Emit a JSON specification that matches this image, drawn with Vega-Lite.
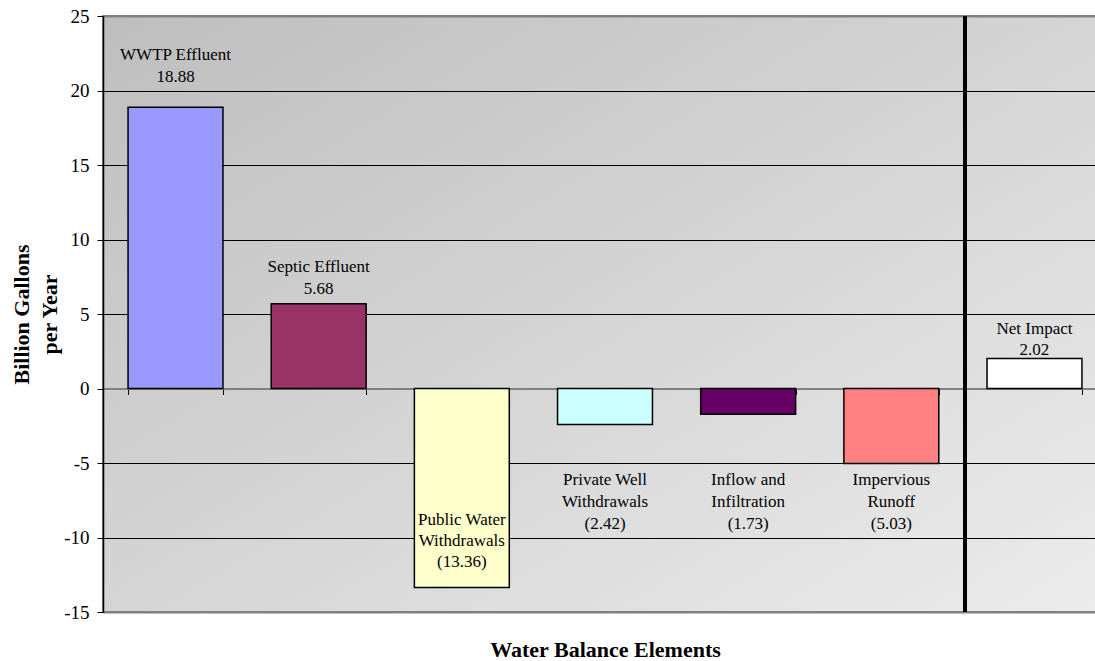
{
  "$schema": "https://vega.github.io/schema/vega-lite/v6.json",
  "width": 1004,
  "height": 596,
  "autosize": {"type": "none"},
  "padding": {"left": 103, "top": 16, "right": -12, "bottom": 49},
  "background": "white",
  "config": {
    "font": "Liberation Serif",
    "view": {
      "fill": {"gradient": "linear", "x1": 0, "y1": 0, "x2": 1, "y2": 1,
        "stops": [{"offset": 0, "color": "#bebebe"}, {"offset": 1, "color": "#ececec"}]},
      "stroke": "#808080",
      "strokeWidth": 2
    }
  },
  "data": {
    "values": [
      {"element": "WWTP Effluent", "value": 18.88, "label": "WWTP Effluent\n18.88"},
      {"element": "Septic Effluent", "value": 5.68, "label": "Septic Effluent\n5.68"},
      {"element": "Public Water Withdrawals", "value": -13.36, "label": "Public Water\nWithdrawals\n(13.36)"},
      {"element": "Private Well Withdrawals", "value": -2.42, "label": "Private Well\nWithdrawals\n(2.42)"},
      {"element": "Inflow and Infiltration", "value": -1.73, "label": "Inflow and\nInfiltration\n(1.73)"},
      {"element": "Impervious Runoff", "value": -5.03, "label": "Impervious\nRunoff\n(5.03)"},
      {"element": "Net Impact", "value": 2.02, "label": "Net Impact\n2.02"}
    ]
  },
  "layer": [
    {
      "mark": {"type": "bar", "stroke": "black", "strokeWidth": 1.5},
      "encoding": {
        "x": {"field": "element", "type": "nominal", "sort": null,
          "scale": {"paddingInner": 0.337, "paddingOuter": 0.175},
          "axis": {"orient": "bottom", "offset": -223.5, "labels": false, "tickBand": "extent",
            "tickSize": 6, "tickColor": "black", "tickWidth": 1,
            "domainColor": "#808080", "domainWidth": 2,
            "title": "Water Balance Elements", "titleFont": "Liberation Serif", "titleFontSize": 22,
            "titleFontWeight": "bold", "titleColor": "black", "titleBaseline": "alphabetic", "titleY": 268,
            "grid": false}},
        "y": {"field": "value", "type": "quantitative",
          "scale": {"domain": [-15, 25], "nice": false, "zero": false},
          "axis": {"values": [-15, -10, -5, 0, 5, 10, 15, 20, 25],
            "labelExpr": "'' + datum.value",
            "title": ["Billion Gallons", "per Year"], "titleFont": "Liberation Serif", "titleFontSize": 22,
            "titleFontWeight": "bold", "titleColor": "black", "titleAngle": -90, "titleAlign": "center",
            "titleBaseline": "alphabetic", "titleX": -75, "titleY": 298, "titleLineHeight": 28,
            "labelFont": "Liberation Serif", "labelFontSize": 19, "labelColor": "black", "labelPadding": 8,
            "tickSize": 6, "tickColor": "black", "domainColor": "black", "domainWidth": 1.5,
            "grid": true, "gridColor": {"condition": {"test": "datum.value == 25 || datum.value == -15", "value": "#808080"}, "value": "black"},
            "gridWidth": {"condition": {"test": "datum.value == 25 || datum.value == -15", "value": 2}, "value": 1},
            "gridOpacity": 1}},
        "color": {"field": "element", "type": "nominal", "legend": null,
          "scale": {"domain": ["WWTP Effluent", "Septic Effluent", "Public Water Withdrawals", "Private Well Withdrawals", "Inflow and Infiltration", "Impervious Runoff", "Net Impact"],
            "range": ["#9999ff", "#993366", "#ffffcc", "#ccffff", "#660066", "#ff8080", "#ffffff"]}}
      }
    },
    {
      "mark": {"type": "rule", "color": "black", "strokeWidth": 3.5},
      "encoding": {
        "x": {"datum": "Net Impact", "type": "nominal", "bandPosition": -0.23}
      }
    },
    {
      "transform": [{"filter": "datum.element == 'WWTP Effluent'"}],
      "mark": {"type": "text", "baseline": "top", "align": "center", "lineBreak": "\n", "lineHeight": 22, "fontSize": 17, "font": "Liberation Serif", "color": "black"},
      "encoding": {"x": {"field": "element", "type": "nominal", "sort": null}, "y": {"datum": 22.95}, "text": {"field": "label"}}
    },
    {
      "transform": [{"filter": "datum.element == 'Septic Effluent'"}],
      "mark": {"type": "text", "baseline": "top", "align": "center", "lineBreak": "\n", "lineHeight": 22, "fontSize": 17, "font": "Liberation Serif", "color": "black"},
      "encoding": {"x": {"field": "element", "type": "nominal", "sort": null}, "y": {"datum": 8.66}, "text": {"field": "label"}}
    },
    {
      "transform": [{"filter": "datum.element == 'Net Impact'"}],
      "mark": {"type": "text", "baseline": "top", "align": "center", "lineBreak": "\n", "lineHeight": 21, "fontSize": 17, "font": "Liberation Serif", "color": "black"},
      "encoding": {"x": {"field": "element", "type": "nominal", "sort": null}, "y": {"datum": 4.56}, "text": {"field": "label"}}
    },
    {
      "transform": [{"filter": "datum.element == 'Public Water Withdrawals'"}],
      "mark": {"type": "text", "baseline": "top", "align": "center", "lineBreak": "\n", "lineHeight": 21, "fontSize": 17, "font": "Liberation Serif", "color": "black"},
      "encoding": {"x": {"field": "element", "type": "nominal", "sort": null}, "y": {"datum": -8.26}, "text": {"field": "label"}}
    },
    {
      "transform": [{"filter": "datum.value < 0 && datum.element != 'Public Water Withdrawals'"}],
      "mark": {"type": "text", "baseline": "top", "align": "center", "lineBreak": "\n", "lineHeight": 22, "fontSize": 17, "font": "Liberation Serif", "color": "black"},
      "encoding": {"x": {"field": "element", "type": "nominal", "sort": null}, "y": {"datum": -5.6}, "text": {"field": "label"}}
    }
  ]
}
